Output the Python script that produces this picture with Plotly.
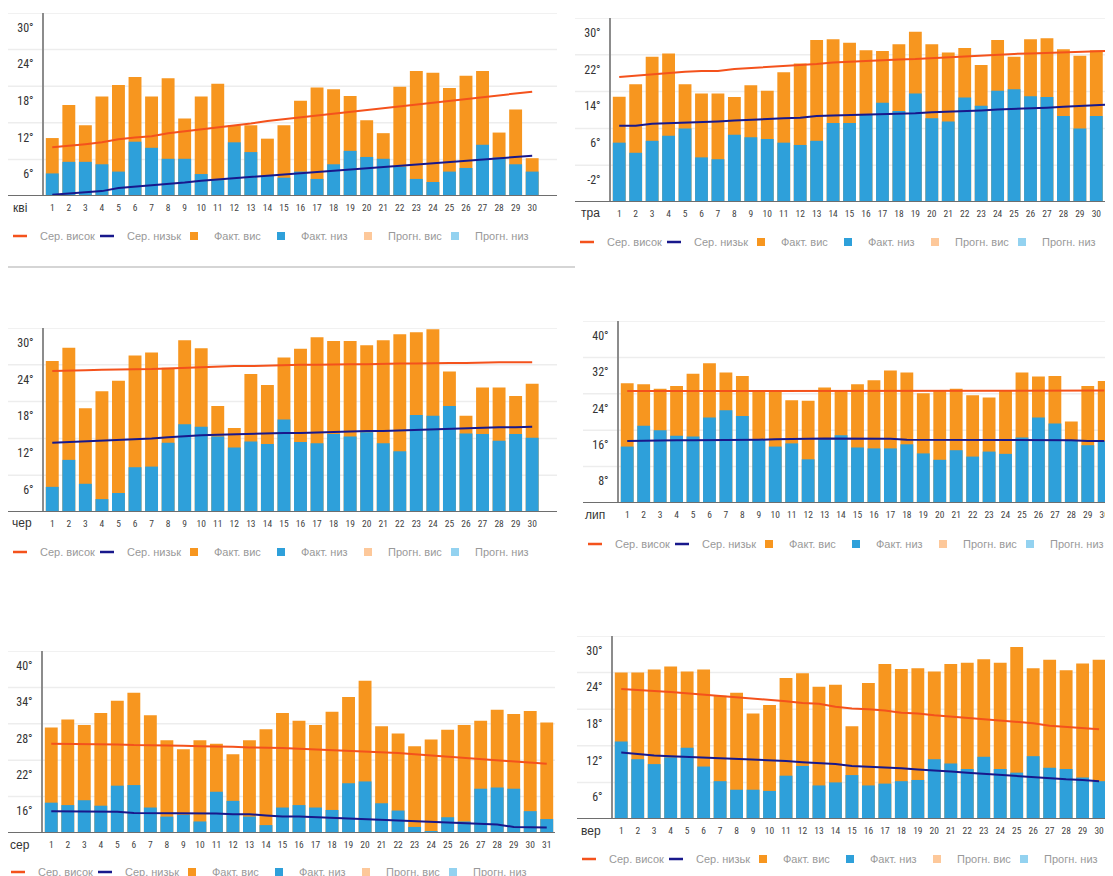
import plotly.graph_objects as go

# ---------------- data ----------------
month_labels = ["кві", "тра", "чер", "лип", "сер", "вер"]
legend_names = ["Сер. висок", "Сер. низьк", "Факт. вис", "Факт. низ", "Прогн. вис", "Прогн. низ"]

days_apr = list(range(1, 31))
days_may = list(range(1, 32))
days_jun = list(range(1, 31))
days_jul = list(range(1, 31))
days_aug = list(range(1, 32))
days_sep = list(range(1, 31))

apr_fact_high = [9.5, 14.9, 11.6, 16.3, 18.2, 19.5, 16.3, 19.3, 12.7, 16.3, 18.4, 11.6, 11.6, 9.4, 11.6,
                 15.6, 17.8, 17.5, 16.4, 12.4, 10.3, 17.9, 20.5, 20.2, 17.7, 19.7, 20.5, 10.4, 14.2, 6.2]
apr_fact_low = [3.7, 5.6, 5.6, 5.2, 4.0, 8.9, 7.9, 6.1, 6.1, 3.6, 2.6, 8.8, 7.2, 3.3, 3.0,
                4.0, 2.8, 5.2, 7.4, 6.4, 6.1, 4.8, 2.8, 2.3, 4.0, 4.6, 8.4, 6.3, 5.2, 4.0]
apr_avg_high = [8.0, 8.2, 8.5, 8.8, 9.3, 9.6, 9.8, 10.3, 10.6, 10.9, 11.2, 11.6, 11.9, 12.3, 12.6,
                12.9, 13.2, 13.5, 13.8, 14.1, 14.4, 14.8, 15.1, 15.4, 15.6, 15.9, 16.2, 16.6, 16.9, 17.1]
apr_avg_low = [0.2, 0.4, 0.6, 0.8, 1.3, 1.5, 1.7, 1.9, 2.2, 2.5, 2.7, 2.9, 3.1, 3.4, 3.6,
               3.8, 4.0, 4.2, 4.3, 4.5, 4.8, 5.0, 5.2, 5.4, 5.5, 5.7, 6.0, 6.2, 6.4, 6.6]

may_fact_high = [12.9, 15.6, 21.6, 22.3, 15.6, 13.6, 13.6, 12.8, 15.4, 14.2, 18.2, 20.1, 25.2, 25.4, 24.6,
                 23.0, 22.8, 24.3, 27.0, 24.3, 22.5, 23.5, 19.8, 25.2, 21.6, 25.4, 25.6, 23.2, 21.8, 23.0, 23.2]
may_fact_low = [2.9, 0.7, 3.3, 4.4, 6.0, -0.3, -0.7, 4.6, 4.1, 3.7, 2.9, 2.4, 3.3, 7.2, 7.2,
                9.1, 11.6, 9.8, 13.6, 8.2, 7.5, 12.7, 10.9, 14.2, 14.5, 13.0, 12.8, 8.7, 6.0, 8.7, 6.9]
may_avg_high = [17.2, 17.5, 17.8, 18.1, 18.3, 18.5, 18.5, 18.9, 19.1, 19.3, 19.6, 19.8, 20.0, 20.3, 20.5,
                20.7, 20.8, 21.0, 21.1, 21.3, 21.5, 21.7, 21.8, 22.0, 22.2, 22.3, 22.4, 22.5, 22.6, 22.8, 22.9]
may_avg_low = [6.6, 6.6, 7.0, 7.1, 7.2, 7.3, 7.5, 7.7, 7.9, 8.0, 8.2, 8.3, 8.7, 8.8, 8.9,
               8.9, 9.1, 9.2, 9.3, 9.5, 9.6, 9.8, 9.9, 10.1, 10.2, 10.4, 10.5, 10.7, 10.9, 11.0, 11.2]

jun_fact_high = [24.6, 26.8, 16.9, 19.7, 21.4, 25.5, 26.0, 23.5, 28.0, 26.7, 17.3, 13.7, 22.5, 20.7, 25.2,
                 26.6, 28.5, 27.9, 27.9, 27.2, 28.0, 29.0, 29.3, 29.8, 22.9, 15.7, 20.3, 20.3, 18.9, 20.9]
jun_fact_low = [4.1, 8.5, 4.6, 2.1, 3.1, 7.3, 7.4, 11.3, 14.3, 13.9, 12.3, 10.5, 11.5, 11.1, 15.1,
                11.4, 11.2, 12.7, 12.3, 13.0, 11.2, 9.9, 15.8, 15.7, 17.3, 12.8, 12.7, 11.6, 12.7, 12.1]
jun_avg_high = [23.0, 23.0, 23.1, 23.2, 23.2, 23.3, 23.3, 23.4, 23.5, 23.7, 23.7, 23.8, 23.8, 23.9, 24.0,
                24.0, 24.0, 24.1, 24.1, 24.1, 24.2, 24.2, 24.2, 24.3, 24.3, 24.3, 24.4, 24.4, 24.4, 24.4]
jun_avg_low = [11.3, 11.4, 11.5, 11.6, 11.7, 11.8, 12.0, 12.2, 12.4, 12.5, 12.6, 12.7, 12.8, 12.8, 12.9,
               12.9, 13.0, 13.0, 13.1, 13.2, 13.2, 13.3, 13.4, 13.5, 13.6, 13.7, 13.7, 13.8, 13.8, 13.9]

jul_fact_high = [26.3, 26.1, 25.1, 25.7, 28.4, 30.7, 28.7, 27.9, 24.5, 24.5, 22.6, 22.5, 25.4, 24.6, 26.1,
                 27.0, 29.1, 28.7, 24.1, 24.7, 25.1, 23.7, 23.2, 24.6, 28.7, 27.8, 27.9, 17.9, 25.7, 26.8]
jul_fact_low = [12.4, 17.0, 16.0, 14.8, 14.6, 18.8, 20.4, 19.1, 14.0, 12.4, 13.1, 9.6, 14.0, 14.9, 12.2,
                12.0, 12.0, 12.9, 10.9, 9.5, 11.6, 10.2, 11.3, 10.8, 14.4, 18.8, 17.5, 13.8, 12.7, 13.6]
jul_avg_high = [24.6, 24.6, 24.6, 24.6, 24.6, 24.7, 24.7, 24.7, 24.7, 24.7, 24.7, 24.7, 24.7, 24.7, 24.7,
                24.7, 24.7, 24.7, 24.7, 24.7, 24.7, 24.7, 24.7, 24.7, 24.7, 24.7, 24.7, 24.7, 24.7, 24.7]
jul_avg_low = [13.6, 13.7, 13.7, 13.8, 13.8, 13.8, 13.9, 13.9, 13.9, 14.0, 14.0, 14.1, 14.2, 14.2, 14.2,
               14.2, 14.1, 13.9, 13.9, 13.9, 13.9, 13.9, 13.9, 13.9, 13.9, 13.9, 13.8, 13.8, 13.6, 13.6]

aug_fact_high = [27.4, 28.7, 27.8, 29.8, 31.8, 33.1, 29.4, 25.3, 23.8, 25.3, 24.7, 23.0, 25.3, 27.1, 29.8,
                 28.5, 27.8, 30.0, 32.4, 35.1, 27.6, 26.4, 24.3, 25.4, 27.0, 27.8, 28.5, 30.3, 29.6, 30.1, 28.2]
aug_fact_low = [15.0, 14.6, 15.4, 14.5, 17.8, 17.9, 14.2, 12.7, 13.0, 11.9, 16.8, 15.3, 12.7, 11.3, 14.2,
                14.6, 14.2, 13.8, 18.2, 18.5, 14.9, 13.7, 11.0, 10.3, 12.6, 11.9, 17.3, 17.5, 17.3, 13.6, 12.3]
aug_avg_high = [24.7, 24.7, 24.7, 24.6, 24.6, 24.5, 24.5, 24.4, 24.4, 24.3, 24.3, 24.2, 24.1, 24.1, 24.0,
                23.9, 23.8, 23.7, 23.6, 23.4, 23.3, 23.2, 23.0, 22.8, 22.6, 22.5, 22.3, 22.0, 21.8, 21.6, 21.4]
aug_avg_low = [13.6, 13.6, 13.6, 13.6, 13.5, 13.3, 13.3, 13.3, 13.2, 13.2, 13.2, 13.1, 13.1, 12.9, 12.7,
               12.7, 12.6, 12.5, 12.4, 12.3, 12.2, 12.1, 12.0, 11.9, 11.7, 11.6, 11.5, 11.4, 11.0, 10.9, 10.9]

sep_fact_high = [24.0, 24.0, 24.5, 25.0, 24.2, 24.5, 20.2, 20.7, 17.3, 18.7, 23.1, 23.9, 21.7, 22.0, 15.2,
                 22.3, 25.4, 24.6, 24.7, 24.2, 25.4, 25.6, 26.2, 25.6, 28.2, 24.7, 26.1, 24.4, 25.5, 26.1]
sep_fact_low = [12.7, 9.8, 9.0, 10.1, 11.7, 8.6, 6.2, 4.8, 4.8, 4.6, 7.1, 8.7, 5.5, 6.0, 7.2,
                5.5, 5.8, 6.2, 6.4, 9.8, 9.1, 8.2, 10.2, 8.2, 7.6, 10.3, 8.4, 8.2, 6.8, 6.2]
sep_avg_high = [21.3, 21.2, 21.0, 20.8, 20.6, 20.4, 20.2, 20.0, 19.8, 19.5, 19.3, 19.0, 18.9, 18.4, 18.1,
                18.0, 17.8, 17.4, 17.3, 17.0, 16.8, 16.5, 16.4, 16.1, 15.9, 15.7, 15.3, 15.1, 14.9, 14.7]
sep_avg_low = [10.9, 10.6, 10.4, 10.3, 10.2, 10.1, 10.0, 9.9, 9.8, 9.7, 9.5, 9.3, 9.2, 9.0, 8.7,
               8.6, 8.4, 8.3, 8.1, 8.0, 7.8, 7.6, 7.4, 7.3, 7.1, 6.9, 6.7, 6.5, 6.4, 6.2]

# y-axis scales: (bottom, top, step)
y_scales = [(0, 30, 6), (-10, 30, 8), (0, 30, 6), (0, 40, 8), (10, 40, 6), (0, 30, 6)]

# ---------------- style / layout ----------------
W, H = 1113, 876
PAD = 8  # default page margin around the figure div
ORANGE = "#f7961f"
BLUE = "#2ea0da"
AVG_HI = "#f4521c"
AVG_LO = "#18188c"
FC_HI = "#fdc89a"
FC_LO = "#93d2f0"
GRID = "#ededed"
TICK_FONT = "Liberation Sans Narrow, Roboto Condensed, Roboto, sans-serif"
LEG_FONT = "Liberation Sans, Arial, sans-serif"


def px_x(p):
    return (p - PAD) / W


def px_y(p):
    return 1 - (p - PAD) / H


series = [
    (days_apr, apr_fact_high, apr_fact_low, apr_avg_high, apr_avg_low),
    (days_may, may_fact_high, may_fact_low, may_avg_high, may_avg_low),
    (days_jun, jun_fact_high, jun_fact_low, jun_avg_high, jun_avg_low),
    (days_jul, jul_fact_high, jul_fact_low, jul_avg_high, jul_avg_low),
    (days_aug, aug_fact_high, aug_fact_low, aug_avg_high, aug_avg_low),
    (days_sep, sep_fact_high, sep_fact_low, sep_avg_high, sep_avg_low),
]

# page-pixel geometry: plot box (left, right, top, bottom), x-range max,
# legend first-text left & centre y, month label centre
geo = [
    dict(box=(44, 557, 13, 196), xmax=31.5, leg=(40, 236), mon=(20, 208)),
    dict(box=(611, 1121, 18, 202), xmax=31.5, leg=(607, 242), mon=(590, 213)),
    dict(box=(44, 557, 328, 512), xmax=31.5, leg=(40, 552), mon=(22, 523)),
    dict(box=(619, 1121, 321, 503), xmax=31.02, leg=(615, 544), mon=(595, 515)),
    dict(box=(43, 555, 651, 833), xmax=31.5, leg=(38, 872), mon=(20, 845)),
    dict(box=(613, 1121, 636, 819), xmax=31.33, leg=(609, 859), mon=(591, 831)),
]

fig = go.Figure()
shapes = []
annotations = []
layout = {}

for i, ((days, fh, fl, ah, al), (lo, hi, step), g) in enumerate(zip(series, y_scales, geo)):
    n = i + 1
    sx = "" if n == 1 else str(n)
    xr, yr = "x" + sx, "y" + sx
    leg = "legend" + sx
    L, R, T, B = g["box"]
    ph = B - T
    pw = R - L

    fig.add_trace(go.Bar(x=days, y=[v - lo for v in fh], base=lo, width=0.78,
                         marker=dict(color=ORANGE, line=dict(width=0)),
                         xaxis=xr, yaxis=yr, showlegend=False, hoverinfo="skip"))
    fig.add_trace(go.Bar(x=days, y=[v - lo for v in fl], base=lo, width=0.78,
                         marker=dict(color=BLUE, line=dict(width=0)),
                         xaxis=xr, yaxis=yr, showlegend=False, hoverinfo="skip"))
    fig.add_trace(go.Scatter(x=days, y=ah, mode="lines", line=dict(color=AVG_HI, width=2),
                             xaxis=xr, yaxis=yr, showlegend=False, hoverinfo="skip"))
    fig.add_trace(go.Scatter(x=days, y=al, mode="lines", line=dict(color=AVG_LO, width=2),
                             xaxis=xr, yaxis=yr, showlegend=False, hoverinfo="skip"))

    # legend entries
    leg_styles = [
        dict(symbol="line-ew", size=10, line=dict(color=AVG_HI, width=2.5)),
        dict(symbol="line-ew", size=10, line=dict(color=AVG_LO, width=2.5)),
        dict(symbol="square", size=8, color=ORANGE),
        dict(symbol="square", size=8, color=BLUE),
        dict(symbol="square", size=8, color=FC_HI),
        dict(symbol="square", size=8, color=FC_LO),
    ]
    for k, (name, ms) in enumerate(zip(legend_names, leg_styles)):
        extra = dict(legendwidth=70) if k == len(legend_names) - 1 else {}
        fig.add_trace(go.Scatter(x=[None], y=[None], mode="markers", marker=ms, name=name,
                                 xaxis=xr, yaxis=yr, legend=leg, showlegend=True, **extra))

    # axes
    ticks_vals = list(range(lo + step, hi + 1, step))
    off = 14.5 * (hi - lo) / ph
    layout["xaxis" + sx] = dict(
        domain=[px_x(L), min(1.0, px_x(R))], range=[0.5, g["xmax"]], anchor=yr,
        tickmode="array", tickvals=days, ticktext=[str(d) for d in days],
        tickfont=dict(size=9.5, color="#444", family=TICK_FONT), ticks="",
        showgrid=False, zeroline=False, showline=False, fixedrange=True, ticklabelstandoff=4,
        automargin=False)
    layout["yaxis" + sx] = dict(
        domain=[px_y(B), px_y(T)], range=[lo, hi], anchor=xr,
        tickmode="array", tickvals=[v - off for v in ticks_vals], ticktext=[f"{v}°" for v in ticks_vals],
        tickfont=dict(size=12, color="#333", family=TICK_FONT), ticks="",
        showgrid=False, zeroline=False, showline=True, linecolor="#8c8c8c", linewidth=2,
        fixedrange=True, ticklabelstandoff=6, automargin=False)

    ext = -36.0 / pw
    for v in ticks_vals:
        shapes.append(dict(type="line", xref=xr + " domain", x0=ext, x1=1, yref=yr, y0=v, y1=v,
                           line=dict(color=GRID, width=1.5), layer="below"))
    shapes.append(dict(type="line", xref=xr + " domain", x0=ext, x1=1, yref=yr, y0=lo, y1=lo,
                       line=dict(color="#6e6e6e", width=2), layer="above"))

    annotations.append(dict(text=month_labels[i], xref="paper", yref="paper",
                            x=px_x(g["mon"][0]), y=px_y(g["mon"][1]), xanchor="center", yanchor="middle",
                            showarrow=False, font=dict(size=12, color="#333", family=LEG_FONT)))

    layout[leg] = dict(orientation="h", x=px_x(g["leg"][0] - 40), y=px_y(g["leg"][1]),
                       xanchor="left", yanchor="middle", entrywidth=42, entrywidthmode="pixels",
                       font=dict(size=11, color="#999", family=LEG_FONT),
                       bgcolor="rgba(0,0,0,0)", itemclick=False, itemdoubleclick=False)

# separator under first panel
shapes.append(dict(type="line", xref="paper", yref="paper", x0=px_x(0), x1=px_x(575),
                   y0=px_y(267), y1=px_y(267), line=dict(color="#d5d5d5", width=2)))

fig.update_layout(width=W, height=H, margin=dict(l=0, r=0, t=0, b=0, autoexpand=False), autosize=False,
                  paper_bgcolor="white", plot_bgcolor="white", barmode="overlay",
                  shapes=shapes, annotations=annotations, **layout)

fig.write_html("out.html")
